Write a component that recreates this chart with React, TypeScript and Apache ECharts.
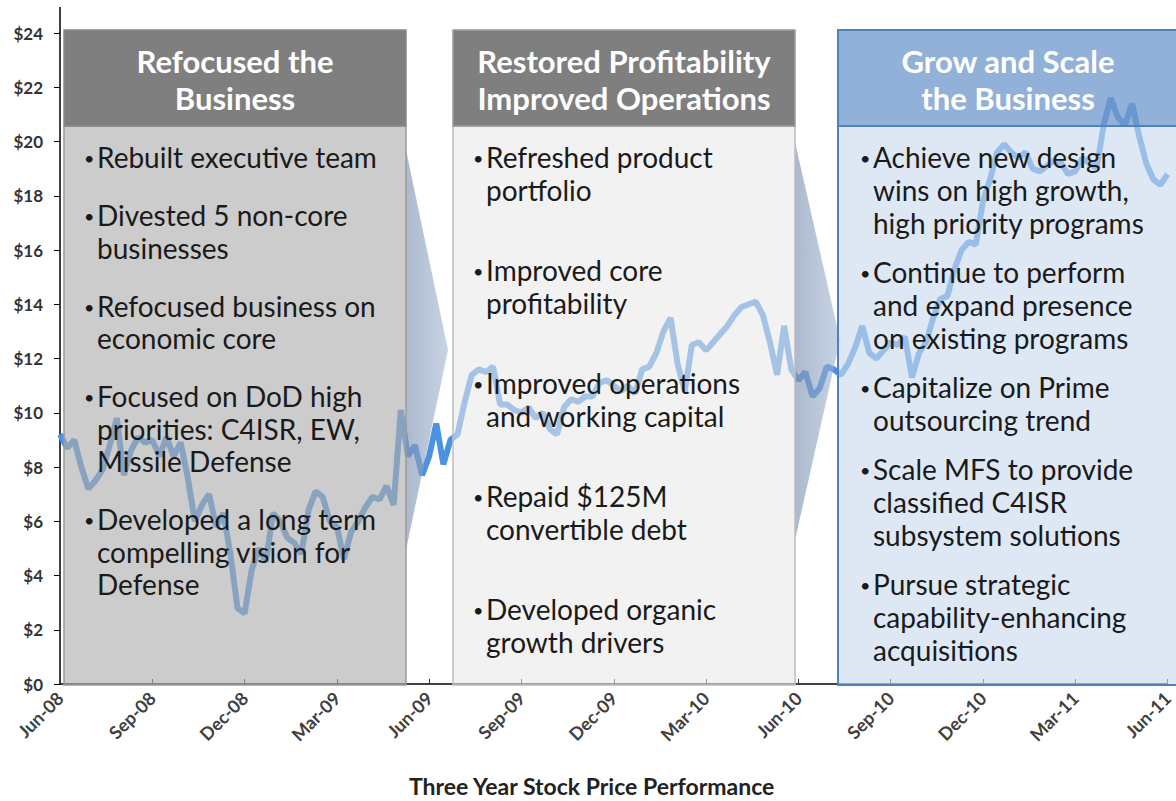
import React, { useEffect, useRef } from 'react';
import * as echarts from 'echarts';

// ---------- DATA ----------
const quarterLabels = ['Jun-08', 'Sep-08', 'Dec-08', 'Mar-09', 'Jun-09', 'Sep-09', 'Dec-09', 'Mar-10', 'Jun-10', 'Sep-10', 'Dec-10', 'Mar-11', 'Jun-11'];
const yMax = 24;
const yStep = 2;
const totalMonths = 36;
// weekly closing price, Jun-08 .. Jun-11 (157 weeks)
const weeklyPrice = [
  9.2, 8.7, 9.0, 8.0, 7.2, 7.5, 7.9, 8.8, 9.8, 7.7, 8.6, 9.1, 8.9,
  9.0, 8.4, 9.1, 8.4, 8.9, 7.6, 6.0, 6.6, 7.0, 5.8, 6.3, 4.8, 2.8,
  2.6, 4.2, 5.0, 4.5, 6.3, 6.0, 5.4, 5.2, 4.8, 6.4, 7.1, 6.9, 6.0,
  5.8, 4.6, 5.6, 6.0, 6.5, 6.9, 6.8, 7.3, 6.6, 10.1, 8.4, 8.8, 7.7,
  8.4, 9.6, 8.1, 9.0, 9.2, 10.4, 11.4, 11.6, 11.5, 11.7, 10.3, 10.3, 10.1,
  10.0, 10.2, 9.8, 10.0, 9.4, 9.2, 10.2, 10.5, 10.4, 10.6, 10.6, 11.1, 11.2,
  11.0, 10.8, 11.0, 10.7, 11.6, 11.7, 12.2, 13.0, 13.5, 11.8, 10.8, 12.5, 12.6,
  12.3, 12.6, 12.9, 13.2, 13.6, 13.9, 14.0, 14.1, 13.6, 12.6, 11.4, 13.2, 11.6,
  11.2, 11.5, 10.6, 10.9, 11.7, 11.6, 11.4, 11.8, 12.4, 13.2, 12.2, 12.0, 12.3,
  12.6, 12.5, 12.8, 11.3, 12.2, 12.6, 13.5, 14.2, 14.3, 15.3, 16.0, 16.3, 16.2,
  17.8, 18.6, 19.6, 19.9, 19.6, 19.4, 19.6, 19.0, 18.9, 19.1, 19.3, 19.2, 18.8,
  18.9, 19.4, 19.2, 19.0, 20.6, 21.6, 20.9, 20.6, 21.4, 20.2, 19.2, 18.6, 18.4,
  18.8,
];

const chartTitle = 'Three Year Stock Price Performance';
const panelTitles = [
  ['Refocused the', 'Business'],
  ['Restored Profitability', 'Improved Operations'],
  ['Grow and Scale', 'the Business'],
];
const panelBullets = [
  [
    ['Rebuilt executive team'],
    ['Divested 5 non-core', 'businesses'],
    ['Refocused business on', 'economic core'],
    ['Focused on DoD high', 'priorities: C4ISR, EW,', 'Missile Defense'],
    ['Developed a long term', 'compelling vision for', 'Defense'],
  ],
  [
    ['Refreshed product', 'portfolio'],
    ['Improved core', 'profitability'],
    ['Improved operations', 'and working capital'],
    ['Repaid $125M', 'convertible debt'],
    ['Developed organic', 'growth drivers'],
  ],
  [
    ['Achieve new design', 'wins on high growth,', 'high priority programs'],
    ['Continue to perform', 'and expand presence', 'on existing programs'],
    ['Capitalize on Prime', 'outsourcing trend'],
    ['Scale MFS to provide', 'classified C4ISR', 'subsystem solutions'],
    ['Pursue strategic', 'capability-enhancing', 'acquisitions'],
  ],
];

// ---------- LAYOUT ----------
const W = 1176;
const H = 801;
const FONT = 'Lato, "Open Sans", sans-serif';
const headerTop = 30;
const headerBottom = 126;
const bodyBottom = 685;
const panels = [
  { x0: 64, x1: 406, cx: 235, textX: 97, lineH: 32.5, paraGap: 58, headerFill: '#7f7f7f', headerStroke: '#8a8a8a', bodyFill: 'rgba(172,172,172,0.62)', bodyStroke: '#9a9a9a', lw: 1.5 },
  { x0: 453, x1: 795, cx: 624, textX: 486, lineH: 33, paraGap: 80, headerFill: '#7f7f7f', headerStroke: '#9a9a9a', bodyFill: 'rgba(232,232,232,0.57)', bodyStroke: '#bdbdbd', lw: 1.5 },
  { x0: 838, x1: 1182, cx: 1008, textX: 873, lineH: 33, paraGap: 49, headerFill: 'rgba(112,152,204,0.76)', headerStroke: '#4f81bd', bodyFill: 'rgba(202,218,239,0.62)', bodyStroke: '#4f81bd', lw: 2 },
];
const arrows = [
  [[406, 150], [448, 350], [406, 550]],
  [[795, 142], [840, 340], [795, 540]],
];

function buildGraphics(): any[] {
  const els: any[] = [];
  // y-axis line extension above top tick
  els.push({ type: 'line', z: 1, shape: { x1: 60, y1: 7, x2: 60, y2: 33 }, style: { stroke: '#000', lineWidth: 1.5 } });
  arrows.forEach((pts) => {
    els.push({
      type: 'polygon',
      z: 5,
      shape: { points: pts },
      style: {
        fill: new echarts.graphic.LinearGradient(0, 0, 1, 0, [
          { offset: 0, color: 'rgba(130,148,178,0.66)' },
          { offset: 1, color: 'rgba(158,178,210,0.58)' },
        ]),
      },
    });
  });
  panels.forEach((p, pi) => {
    const w = p.x1 - p.x0;
    els.push({ type: 'rect', z: 10, shape: { x: p.x0, y: headerBottom, width: w, height: bodyBottom - headerBottom }, style: { fill: p.bodyFill, stroke: p.bodyStroke, lineWidth: p.lw } });
    els.push({ type: 'rect', z: 11, shape: { x: p.x0, y: headerTop, width: w, height: headerBottom - headerTop }, style: { fill: p.headerFill, stroke: p.headerStroke, lineWidth: p.lw } });
    panelTitles[pi].forEach((t, li) => {
      els.push({
        type: 'text', z: 12, x: p.cx, y: 61 + li * 37,
        style: { text: t, fill: '#ffffff', fontFamily: FONT, fontWeight: 'bold', fontSize: 31, align: 'center', verticalAlign: 'middle' },
      });
    });
    let y = 157;
    panelBullets[pi].forEach((para, bi) => {
      if (bi > 0) y += p.paraGap - p.lineH;
      els.push({ type: 'text', z: 12, x: p.textX - 13, y: y + 1, style: { text: '•', fill: '#1a1a1a', fontFamily: FONT, fontSize: 18, align: 'left', verticalAlign: 'middle' } });
      para.forEach((line) => {
        els.push({ type: 'text', z: 12, x: p.textX, y: y, style: { text: line, fill: '#1a1a1a', fontFamily: FONT, fontSize: 28, align: 'left', verticalAlign: 'middle' } });
        y += p.lineH;
      });
    });
  });
  return els;
}

export default function App() {
  const ref = useRef<HTMLDivElement>(null);
  useEffect(() => {
    if (!ref.current) return;
    const chart = echarts.init(ref.current, undefined, { renderer: 'svg' });
    const seriesData = weeklyPrice.map((v, i) => [(i * totalMonths) / (weeklyPrice.length - 1), v]);
    chart.setOption({
      animation: false,
      backgroundColor: '#ffffff',
      title: {
        text: chartTitle,
        left: 409,
        top: 774,
        padding: 0,
        textStyle: { fontFamily: FONT, fontWeight: 'bold', fontSize: 23, lineHeight: 23, color: '#222' },
      },
      grid: { left: 60, right: 6, top: 33, bottom: 117, containLabel: false },
      xAxis: {
        type: 'value',
        min: 0,
        max: totalMonths,
        interval: 3,
        axisLine: { show: true, lineStyle: { color: '#000', width: 1.5 } },
        axisTick: { show: true, inside: true, length: 5, lineStyle: { color: '#333' } },
        splitLine: { show: false },
        axisLabel: {
          rotate: 45,
          margin: 11,
          fontFamily: FONT,
          fontWeight: 'bold',
          fontSize: 18,
          color: '#404040',
          formatter: (v: number) => quarterLabels[Math.round(v / 3)] ?? '',
        },
      },
      yAxis: {
        type: 'value',
        min: 0,
        max: yMax,
        interval: yStep,
        axisLine: { show: true, lineStyle: { color: '#000', width: 1.5 } },
        axisTick: { show: true, inside: false, length: 6, lineStyle: { color: '#000' } },
        splitLine: { show: false },
        axisLabel: {
          margin: 17,
          fontFamily: FONT,
          fontWeight: 'bold',
          fontSize: 17,
          color: '#333',
          formatter: (v: number) => '$' + v,
        },
      },
      series: [
        {
          type: 'line',
          data: seriesData,
          showSymbol: false,
          z: 2,
          lineStyle: { color: '#4b93e0', width: 6 },
        },
      ],
      graphic: { elements: buildGraphics() },
    });
    return () => chart.dispose();
  }, []);
  return <div ref={ref} style={{ position: 'fixed', left: 0, top: 0, width: W, height: H }} />;
}
